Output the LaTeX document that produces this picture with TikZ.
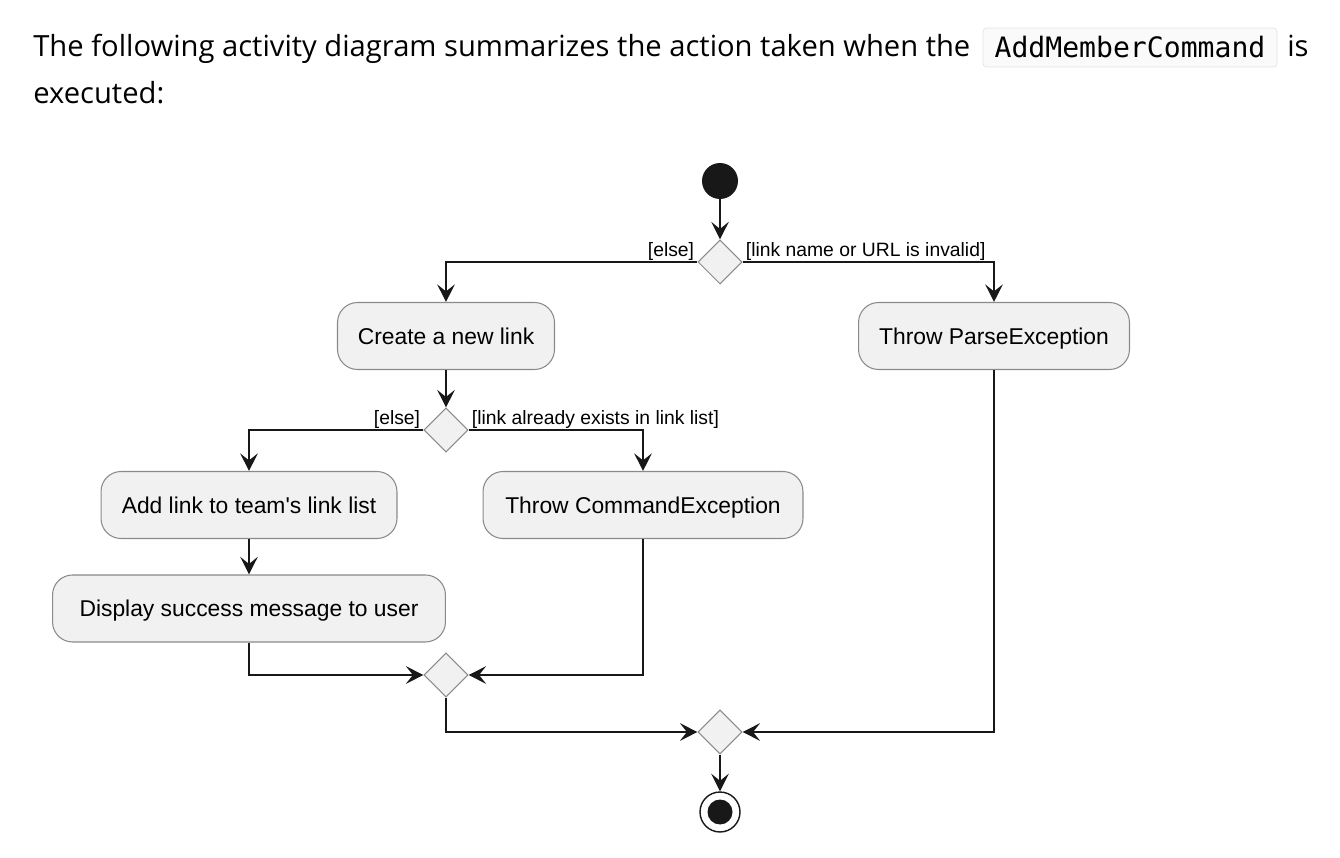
\documentclass[tikz,border=0pt]{standalone}
\usepackage{xcolor}
\usepackage{fontspec}
\setmainfont{Liberation Sans}
\setmonofont{DejaVu Sans Mono}
\newfontfamily\prosefont{Open Sans}
\usepackage{tikz}
\usetikzlibrary{shapes,arrows.meta,positioning,calc}

\definecolor{actfill}{HTML}{F1F1F1}
\definecolor{actline}{HTML}{181818}
\definecolor{actborder}{HTML}{8A8A8A}
\definecolor{codeborder}{HTML}{E3E3E3}
\definecolor{codefill}{HTML}{FAFAFA}

\tikzset{
    action/.style={draw=actborder, fill=actfill, rectangle, rounded corners=0.4cm, text centered, minimum height=1.34cm, text height=0.95em, text depth=0em, line width=0.6pt, font=\fontsize{13}{15}\selectfont},
    branch/.style={draw=actborder, fill=actfill, diamond, minimum width=0.88cm, minimum height=0.88cm, inner sep=0pt, line width=0.6pt},
    flow/.style={draw=actline, line width=0.85pt, -{Stealth[length=10pt,width=10pt,inset=4pt]}},
    guard/.style={font=\fontsize{11}{13}\selectfont, inner xsep=1.5pt, inner ysep=0.3pt},
    prose/.style={anchor=base west, inner sep=0pt, font=\prosefont\fontsize{16.6}{20}\selectfont},
}

\begin{document}
\begin{tikzpicture}[x=0.02cm, y=-0.02cm]
    \useasboundingbox (0,0) rectangle (1340,858);

    % intro text
    \node [prose] (intro) at (33,57) {The following activity diagram summarizes the action taken when the};
    \node [draw=codeborder, fill=codefill, rounded corners=2pt, minimum width=5.88cm, minimum height=0.78cm, inner sep=0pt, font=\fontsize{16}{19}\ttfamily] (cmd) at (1130,47.5) {AddMemberCommand};
    \node [prose] (is) at (1287,57) {is};
    \node [prose] (exec) at (33,104) {executed:};

    % activity nodes
    \node [circle, fill=actline, minimum size=0.72cm, inner sep=0pt] (start) at (720,181) {};
    \node [branch, below of=start, node distance=1.62cm] (d1) {};
    \node [action, minimum width=4.34cm] (create) at (446,336) {Create a new link};
    \node [action, minimum width=5.42cm] (parse) at (994,336) {Throw ParseException};
    \node [branch] (d2) at (446,430) {};
    \node [action, minimum width=5.92cm] (addlink) at (249,505) {Add link to team\textquotesingle s link list};
    \node [action, minimum width=6.4cm] (cmdex) at (643,505) {Throw CommandException};
    \node [action, minimum width=7.86cm, below of=addlink, node distance=2.07cm] (display) {Display success message to user};
    \node [branch] (d3) at (446,675) {};
    \node [branch] (d4) at (720,732) {};
    \node [circle, draw=actline, fill=white, line width=0.8pt, minimum size=0.8cm, inner sep=0pt] (stop) at (720,812) {};
    \node [circle, fill=actline, minimum size=0.5cm, inner sep=0pt] (stopdot) at (stop) {};

    % connectors
    \path [flow] (start) -- (d1);
    \path [flow] (d1.west) -| node [guard, pos=0, anchor=south east] {[else]} (create.north);
    \path [flow] (d1.east) -| node [guard, pos=0, anchor=south west] {[link name or URL is invalid]} (parse.north);
    \path [flow] (create) -- (d2);
    \path [flow] (d2.west) -| node [guard, pos=0, anchor=south east] {[else]} (addlink.north);
    \path [flow] (d2.east) -| node [guard, pos=0, anchor=south west] {[link already exists in link list]} (cmdex.north);
    \path [flow] (addlink) -- (display);
    \path [flow] (display.south) |- (d3.west);
    \path [flow] (cmdex.south) |- (d3.east);
    \path [flow] (d3.south) |- (d4.west);
    \path [flow] (parse.south) |- (d4.east);
    \path [flow] (d4) -- (stop);
\end{tikzpicture}
\end{document}
